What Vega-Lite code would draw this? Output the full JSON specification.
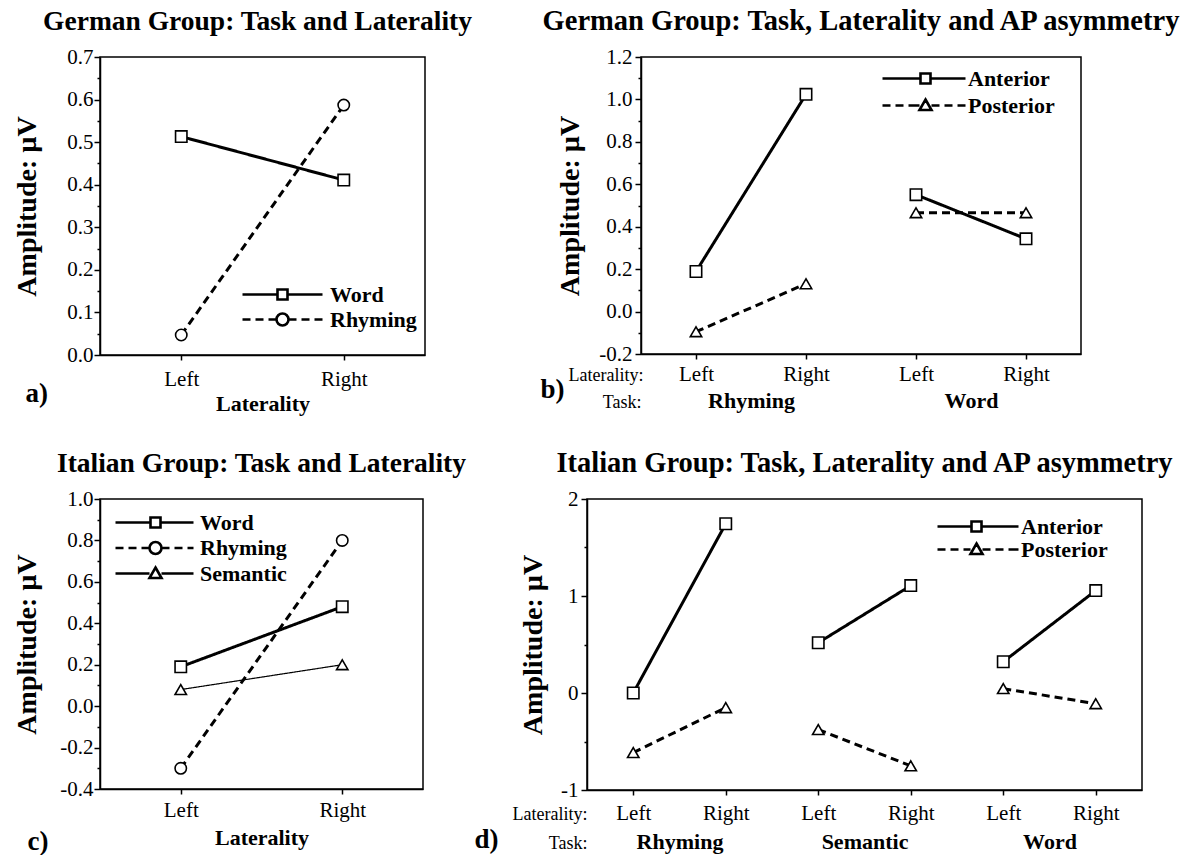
{
  "$schema": "https://vega.github.io/schema/vega-lite/v6.json",
  "background": "white",
  "padding": {"left": 12, "top": 5, "right": 5, "bottom": 0},
  "config": {
    "view": {"stroke": "black", "strokeWidth": 1.5},
    "font": "Liberation Serif",
    "axis": {"grid": false, "domainColor": "black", "domainWidth": 1.5, "tickColor": "black", "tickWidth": 1.5, "labelColor": "black", "titleColor": "black", "labelFont": "Liberation Serif", "titleFont": "Liberation Serif", "labelFontSize": 21, "labelFontWeight": "normal", "labelOverlap": false, "labelFlush": false, "labelBound": false},
    "title": {"font": "Liberation Serif", "fontSize": 27.5, "fontWeight": "bold", "color": "black", "frame": "group", "anchor": "middle", "offset": 11},
    "legend": {"labelFont": "Liberation Serif", "labelColor": "black"}
  },
  "spacing": 32,
  "vconcat": [
    {
      "spacing": 66,
      "hconcat": [
        {
          "title": {"text": "German Group: Task and Laterality", "dx": -5},
          "width": 325,
          "height": 298,
          "data": {"values": [
            {"lat": "Left", "task": "Word", "amp": 0.513},
            {"lat": "Right", "task": "Word", "amp": 0.411},
            {"lat": "Left", "task": "Rhyming", "amp": 0.047},
            {"lat": "Right", "task": "Rhyming", "amp": 0.587}
          ]},
          "resolve": {"scale": {"shape": "independent"}, "axis": {"y": "independent"}},
          "layer": [
            {
              "mark": {"type": "line", "color": "black", "strokeWidth": 3},
              "encoding": {
                "x": {"field": "lat", "type": "nominal", "scale": {"type": "point", "padding": 0.5, "domain": ["Left", "Right"]},
                  "axis": {"title": "Laterality", "titleFontSize": 22, "titleFontWeight": "bold", "titleBaseline": "alphabetic", "titleY": 55, "labelAngle": 0, "tickSize": 5, "labelPadding": 25, "labelBaseline": "alphabetic"}},
                "y": {"field": "amp", "type": "quantitative", "scale": {"domain": [0, 0.7], "nice": false, "zero": false},
                  "axis": {"title": "Amplitude: µV", "titleFontSize": 28, "titleFontWeight": "bold", "titleBaseline": "bottom", "titleX": -59,
                    "values": [0, 0.05, 0.1, 0.15, 0.2, 0.25, 0.3, 0.35, 0.4, 0.45, 0.5, 0.55, 0.6, 0.65, 0.7],
                    "labelExpr": "abs(datum.value*10 - round(datum.value*10)) > 0.001 ? '' : replace(format(datum.value, '.1f'), '\u2212', '-')",
                    "tickSize": {"condition": {"test": "abs(datum.value*10 - round(datum.value*10)) > 0.001", "value": 3}, "value": 6},
                    "labelPadding": 1}},
                "detail": {"field": "task"},
                "strokeDash": {"field": "task", "type": "nominal", "scale": {"domain": ["Word", "Rhyming"], "range": [[1, 0], [8, 5]]}, "legend": null}
              }
            },
            {
              "mark": {"type": "point", "filled": true, "fill": "white", "stroke": "black", "strokeWidth": 1.6, "size": 130, "opacity": 1},
              "encoding": {
                "x": {"field": "lat", "type": "nominal"},
                "y": {"field": "amp", "type": "quantitative", "axis": null},
                "shape": {"field": "task", "type": "nominal", "scale": {"domain": ["Word", "Rhyming"], "range": ["square", "circle"]}, "legend": null}
              }
            },
            {
              "transform": [{"filter": "false"}],
              "mark": {"type": "point", "filled": false, "color": "black", "strokeWidth": 2.6, "opacity": 1},
              "encoding": {
                "x": {"field": "lat", "type": "nominal"},
                "y": {"field": "amp", "type": "quantitative", "axis": {"orient": "left", "title": "a)", "titleAngle": 0, "titleAlign": "left", "titleBaseline": "alphabetic", "titleX": -75, "titleY": 344, "titleFontSize": 27, "titleFontWeight": "bold", "labels": false, "ticks": false, "domain": false}},
                "shape": {"field": "task", "type": "nominal",
                  "scale": {"domain": ["Word", "Rhyming"], "range": [
                    "M-4,0H-0.5M0.5,0H4M-0.5,-0.5H0.5V0.5H-0.5Z",
                    "M-4,0H-3.2M-2.7,0H-1.9M-1.4,0H-0.6M0.6,0H1.4M1.9,0H2.7M3.2,0H4M0.6,0A0.6,0.6 0 1 1 -0.6,0A0.6,0.6 0 1 1 0.6,0Z"]},
                  "legend": {"orient": "none", "legendX": 142, "legendY": 226, "title": null, "padding": 0, "symbolSize": 400, "symbolStrokeWidth": 2.6, "symbolStrokeColor": "black", "symbolOpacity": 1, "symbolOffset": 29, "labelOffset": 36, "labelFontSize": 22, "labelFontWeight": "bold", "rowPadding": 2, "labelLimit": 300}}
              }
            }
          ]
        },
        {
          "title": {"text": "German Group: Task, Laterality and AP asymmetry", "fontSize": 28.5},
          "width": 440,
          "height": 297,
          "data": {"values": [
            {"cond": "Rhyming-Left", "task": "Rhyming", "ap": "Anterior", "amp": 0.189},
            {"cond": "Rhyming-Right", "task": "Rhyming", "ap": "Anterior", "amp": 1.024},
            {"cond": "Word-Left", "task": "Word", "ap": "Anterior", "amp": 0.551},
            {"cond": "Word-Right", "task": "Word", "ap": "Anterior", "amp": 0.343},
            {"cond": "Rhyming-Left", "task": "Rhyming", "ap": "Posterior", "amp": -0.095},
            {"cond": "Rhyming-Right", "task": "Rhyming", "ap": "Posterior", "amp": 0.131},
            {"cond": "Word-Left", "task": "Word", "ap": "Posterior", "amp": 0.466},
            {"cond": "Word-Right", "task": "Word", "ap": "Posterior", "amp": 0.466}
          ]},
          "resolve": {"scale": {"x": "independent", "shape": "independent"}, "axis": {"y": "independent"}},
          "layer": [
            {
              "mark": {"type": "line", "color": "black", "strokeWidth": 3},
              "encoding": {
                "x": {"field": "cond", "type": "nominal", "scale": {"type": "point", "padding": 0.5, "domain": ["Rhyming-Left", "Rhyming-Right", "Word-Left", "Word-Right"]},
                  "axis": {"title": "Laterality:", "titleAlign": "right", "titleX": 2, "titleY": 26, "titleBaseline": "alphabetic", "titleFontWeight": "normal", "titleFontSize": 18, "labelExpr": "split(datum.label, '-')[1]", "labelAngle": 0, "tickSize": 5, "labelPadding": 21, "labelBaseline": "alphabetic"}},
                "y": {"field": "amp", "type": "quantitative", "scale": {"domain": [-0.2, 1.2], "nice": false, "zero": false},
                  "axis": {"title": "Amplitude: µV", "titleFontSize": 28, "titleFontWeight": "bold", "titleBaseline": "bottom", "titleX": -57,
                    "values": [-0.2, -0.1, 0, 0.1, 0.2, 0.3, 0.4, 0.5, 0.6, 0.7, 0.8, 0.9, 1.0, 1.1, 1.2],
                    "labelExpr": "abs(datum.value*5 - round(datum.value*5)) > 0.001 ? '' : replace(format(datum.value, '.1f'), '\u2212', '-')",
                    "tickSize": {"condition": {"test": "abs(datum.value*5 - round(datum.value*5)) > 0.001", "value": 3}, "value": 6},
                    "labelPadding": 3}},
                "detail": {"field": "task"},
                "strokeDash": {"field": "ap", "type": "nominal", "scale": {"domain": ["Anterior", "Posterior"], "range": [[1, 0], [8, 5]]}, "legend": null}
              }
            },
            {
              "mark": {"type": "point", "filled": true, "fill": "white", "stroke": "black", "strokeWidth": 1.6, "size": 130, "opacity": 1},
              "encoding": {
                "x": {"field": "cond", "type": "nominal", "scale": {"type": "point", "padding": 0.5, "domain": ["Rhyming-Left", "Rhyming-Right", "Word-Left", "Word-Right"]}, "axis": null},
                "y": {"field": "amp", "type": "quantitative", "axis": null},
                "shape": {"field": "ap", "type": "nominal", "scale": {"domain": ["Anterior", "Posterior"], "range": ["square", "triangle-up"]}, "legend": null}
              }
            },
            {
              "transform": [{"filter": "false"}],
              "mark": {"type": "point", "filled": false, "color": "black", "strokeWidth": 2.6, "opacity": 1},
              "encoding": {
                "x": {"field": "task", "type": "nominal", "scale": {"type": "point", "padding": 0.5, "domain": ["Rhyming", "Word"]},
                  "axis": {"orient": "bottom", "title": "Task:", "titleAlign": "right", "titleX": 0, "titleY": 53, "titleBaseline": "alphabetic", "titleFontWeight": "normal", "titleFontSize": 18, "labelFontWeight": "bold", "labelFontSize": 22, "labelBaseline": "alphabetic", "labelPadding": 53, "ticks": false, "tickSize": 0, "domain": false, "labelAngle": 0}},
                "y": {"field": "amp", "type": "quantitative", "axis": {"orient": "left", "title": "b)", "titleAngle": 0, "titleAlign": "left", "titleBaseline": "alphabetic", "titleX": -101, "titleY": 340, "titleFontSize": 27, "titleFontWeight": "bold", "labels": false, "ticks": false, "domain": false}},
                "shape": {"field": "ap", "type": "nominal",
                  "scale": {"domain": ["Anterior", "Posterior"], "range": [
                    "M-4.3,0H-0.5M0.5,0H4M-0.5,-0.5H0.5V0.5H-0.5Z",
                    "M-4.3,0H-3.5M-3,0H-2.2M-1.7,0H-0.6M0.6,0H1.4M1.9,0H2.7M3.2,0H4M0,-0.6L0.6,0.45H-0.6Z"]},
                  "legend": {"orient": "none", "legendX": 241, "legendY": 10, "title": null, "padding": 0, "symbolSize": 400, "symbolStrokeWidth": 2.6, "symbolStrokeColor": "black", "symbolOpacity": 1, "symbolOffset": 32, "labelOffset": 31, "labelFontSize": 22, "labelFontWeight": "bold", "rowPadding": 4, "labelLimit": 300}}
              }
            }
          ]
        }
      ]
    },
    {
      "spacing": 5,
      "hconcat": [
        {
          "title": {"text": "Italian Group: Task and Laterality"},
          "width": 323,
          "height": 290,
          "data": {"values": [
            {"lat": "Left", "task": "Word", "amp": 0.19},
            {"lat": "Right", "task": "Word", "amp": 0.48},
            {"lat": "Left", "task": "Rhyming", "amp": -0.30},
            {"lat": "Right", "task": "Rhyming", "amp": 0.80},
            {"lat": "Left", "task": "Semantic", "amp": 0.08},
            {"lat": "Right", "task": "Semantic", "amp": 0.20}
          ]},
          "resolve": {"scale": {"shape": "independent"}, "axis": {"y": "independent"}},
          "layer": [
            {
              "mark": {"type": "line", "color": "black"},
              "encoding": {
                "x": {"field": "lat", "type": "nominal", "scale": {"type": "point", "padding": 0.5, "domain": ["Left", "Right"]},
                  "axis": {"title": "Laterality", "titleFontSize": 22, "titleFontWeight": "bold", "titleBaseline": "alphabetic", "titleY": 55, "labelAngle": 0, "tickSize": 5, "labelPadding": 22, "labelBaseline": "alphabetic"}},
                "y": {"field": "amp", "type": "quantitative", "scale": {"domain": [-0.4, 1.0], "nice": false, "zero": false},
                  "axis": {"title": "Amplitude: µV", "titleFontSize": 28, "titleFontWeight": "bold", "titleBaseline": "bottom", "titleX": -59,
                    "values": [-0.4, -0.3, -0.2, -0.1, 0, 0.1, 0.2, 0.3, 0.4, 0.5, 0.6, 0.7, 0.8, 0.9, 1.0],
                    "labelExpr": "abs(datum.value*5 - round(datum.value*5)) > 0.001 ? '' : replace(format(datum.value, '.1f'), '\u2212', '-')",
                    "tickSize": {"condition": {"test": "abs(datum.value*5 - round(datum.value*5)) > 0.001", "value": 3}, "value": 6},
                    "labelPadding": 1}},
                "detail": {"field": "task"},
                "strokeDash": {"field": "task", "type": "nominal", "scale": {"domain": ["Word", "Rhyming", "Semantic"], "range": [[1, 0], [8, 5], [1, 0]]}, "legend": null},
                "strokeWidth": {"field": "task", "type": "nominal", "scale": {"type": "ordinal", "domain": ["Word", "Rhyming", "Semantic"], "range": [3, 3, 1.2]}, "legend": null}
              }
            },
            {
              "mark": {"type": "point", "filled": true, "fill": "white", "stroke": "black", "strokeWidth": 1.6, "size": 130, "opacity": 1},
              "encoding": {
                "x": {"field": "lat", "type": "nominal"},
                "y": {"field": "amp", "type": "quantitative", "axis": null},
                "shape": {"field": "task", "type": "nominal", "scale": {"domain": ["Word", "Rhyming", "Semantic"], "range": ["square", "circle", "triangle-up"]}, "legend": null}
              }
            },
            {
              "transform": [{"filter": "false"}],
              "mark": {"type": "point", "filled": false, "color": "black", "strokeWidth": 2.6, "opacity": 1},
              "encoding": {
                "x": {"field": "lat", "type": "nominal"},
                "y": {"field": "amp", "type": "quantitative", "axis": {"orient": "left", "title": "c)", "titleAngle": 0, "titleAlign": "left", "titleBaseline": "alphabetic", "titleX": -73, "titleY": 350, "titleFontSize": 27, "titleFontWeight": "bold", "labels": false, "ticks": false, "domain": false}},
                "shape": {"field": "task", "type": "nominal",
                  "scale": {"domain": ["Word", "Rhyming", "Semantic"], "range": [
                    "M-4,0H-0.5M0.5,0H3.8M-0.5,-0.5H0.5V0.5H-0.5Z",
                    "M-4,0H-3.2M-2.7,0H-1.9M-1.4,0H-0.6M0.6,0H1.4M1.9,0H2.7M3.2,0H3.8M0.6,0A0.6,0.6 0 1 1 -0.6,0A0.6,0.6 0 1 1 0.6,0Z",
                    "M-4,0H-0.6M0.6,0H3.8M0,-0.6L0.6,0.45H-0.6Z"]},
                  "legend": {"orient": "none", "legendX": 15, "legendY": 12, "title": null, "padding": 0, "symbolSize": 400, "symbolStrokeWidth": 2.6, "symbolStrokeColor": "black", "symbolOpacity": 1, "symbolOffset": 29, "labelOffset": 33, "labelFontSize": 22, "labelFontWeight": "bold", "rowPadding": 2.5, "labelLimit": 300}}
              }
            }
          ]
        },
        {
          "title": {"text": "Italian Group: Task, Laterality and AP asymmetry", "fontSize": 28.5},
          "width": 555,
          "height": 291,
          "data": {"values": [
            {"cond": "Rhyming-Left", "task": "Rhyming", "ap": "Anterior", "amp": 0.0},
            {"cond": "Rhyming-Right", "task": "Rhyming", "ap": "Anterior", "amp": 1.745},
            {"cond": "Semantic-Left", "task": "Semantic", "ap": "Anterior", "amp": 0.518},
            {"cond": "Semantic-Right", "task": "Semantic", "ap": "Anterior", "amp": 1.107},
            {"cond": "Word-Left", "task": "Word", "ap": "Anterior", "amp": 0.322},
            {"cond": "Word-Right", "task": "Word", "ap": "Anterior", "amp": 1.056},
            {"cond": "Rhyming-Left", "task": "Rhyming", "ap": "Posterior", "amp": -0.614},
            {"cond": "Rhyming-Right", "task": "Rhyming", "ap": "Posterior", "amp": -0.151},
            {"cond": "Semantic-Left", "task": "Semantic", "ap": "Posterior", "amp": -0.377},
            {"cond": "Semantic-Right", "task": "Semantic", "ap": "Posterior", "amp": -0.751},
            {"cond": "Word-Left", "task": "Word", "ap": "Posterior", "amp": 0.045},
            {"cond": "Word-Right", "task": "Word", "ap": "Posterior", "amp": -0.11}
          ]},
          "resolve": {"scale": {"x": "independent", "shape": "independent"}, "axis": {"y": "independent"}},
          "layer": [
            {
              "mark": {"type": "line", "color": "black", "strokeWidth": 3},
              "encoding": {
                "x": {"field": "cond", "type": "nominal", "scale": {"type": "point", "padding": 0.5, "domain": ["Rhyming-Left", "Rhyming-Right", "Semantic-Left", "Semantic-Right", "Word-Left", "Word-Right"]},
                  "axis": {"title": "Laterality:", "titleAlign": "right", "titleX": 0, "titleY": 29, "titleBaseline": "alphabetic", "titleFontWeight": "normal", "titleFontSize": 18, "labelExpr": "split(datum.label, '-')[1]", "labelAngle": 0, "tickSize": 5, "labelPadding": 24, "labelBaseline": "alphabetic"}},
                "y": {"field": "amp", "type": "quantitative", "scale": {"domain": [-1, 2], "nice": false, "zero": false},
                  "axis": {"title": "Amplitude: µV", "titleFontSize": 28, "titleFontWeight": "bold", "titleBaseline": "bottom", "titleX": -40,
                    "values": [-1, -0.5, 0, 0.5, 1, 1.5, 2],
                    "labelExpr": "abs(datum.value - round(datum.value)) > 0.001 ? '' : replace(format(datum.value, 'd'), '\u2212', '-')",
                    "tickSize": {"condition": {"test": "abs(datum.value - round(datum.value)) > 0.001", "value": 3}, "value": 6},
                    "labelPadding": 3}},
                "detail": {"field": "task"},
                "strokeDash": {"field": "ap", "type": "nominal", "scale": {"domain": ["Anterior", "Posterior"], "range": [[1, 0], [8, 5]]}, "legend": null}
              }
            },
            {
              "mark": {"type": "point", "filled": true, "fill": "white", "stroke": "black", "strokeWidth": 1.6, "size": 130, "opacity": 1},
              "encoding": {
                "x": {"field": "cond", "type": "nominal", "scale": {"type": "point", "padding": 0.5, "domain": ["Rhyming-Left", "Rhyming-Right", "Semantic-Left", "Semantic-Right", "Word-Left", "Word-Right"]}, "axis": null},
                "y": {"field": "amp", "type": "quantitative", "axis": null},
                "shape": {"field": "ap", "type": "nominal", "scale": {"domain": ["Anterior", "Posterior"], "range": ["square", "triangle-up"]}, "legend": null}
              }
            },
            {
              "transform": [{"filter": "false"}],
              "mark": {"type": "point", "filled": false, "color": "black", "strokeWidth": 2.6, "opacity": 1},
              "encoding": {
                "x": {"field": "task", "type": "nominal", "scale": {"type": "point", "padding": 0.5, "domain": ["Rhyming", "Semantic", "Word"]},
                  "axis": {"orient": "bottom", "title": "Task:", "titleAlign": "right", "titleX": 0, "titleY": 58, "titleBaseline": "alphabetic", "titleFontWeight": "normal", "titleFontSize": 18, "labelFontWeight": "bold", "labelFontSize": 22, "labelBaseline": "alphabetic", "labelPadding": 58, "ticks": false, "tickSize": 0, "domain": false, "labelAngle": 0}},
                "y": {"field": "amp", "type": "quantitative", "axis": {"orient": "left", "title": "d)", "titleAngle": 0, "titleAlign": "left", "titleBaseline": "alphabetic", "titleX": -113, "titleY": 348, "titleFontSize": 27, "titleFontWeight": "bold", "labels": false, "ticks": false, "domain": false}},
                "shape": {"field": "ap", "type": "nominal",
                  "scale": {"domain": ["Anterior", "Posterior"], "range": [
                    "M-3.9,0H-0.5M0.5,0H4.2M-0.5,-0.5H0.5V0.5H-0.5Z",
                    "M-3.9,0H-3.1M-2.6,0H-1.8M-1.3,0H-0.6M0.6,0H1.4M1.9,0H2.7M3.2,0H4.2M0,-0.6L0.6,0.45H-0.6Z"]},
                  "legend": {"orient": "none", "legendX": 350, "legendY": 16, "title": null, "padding": 0, "symbolSize": 400, "symbolStrokeWidth": 2.6, "symbolStrokeColor": "black", "symbolOpacity": 1, "symbolOffset": 28, "labelOffset": 33, "labelFontSize": 22, "labelFontWeight": "bold", "rowPadding": 0, "labelLimit": 300}}
              }
            }
          ]
        }
      ]
    }
  ]
}
